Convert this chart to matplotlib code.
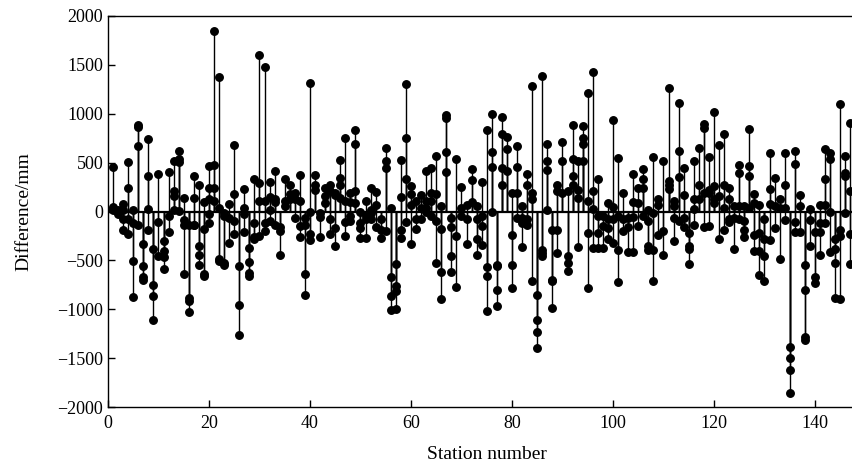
import matplotlib

matplotlib.use("Agg")
import matplotlib.pyplot as plt
import numpy as np
from matplotlib.ticker import MultipleLocator

plt.rcParams["font.family"] = ["Liberation Serif", "DejaVu Serif"]

# station number -> differences (mm), several epochs per station
diff_001_030 = [
    [458, 50, 30, 20], [20, -30, 0], [75, 20, -75, -185], [510, 245, -80, -230],
    [15, -120, -505, -875], [885, 860, 665, -140], [-335, -555, -675, -700],
    [740, 365, 30, -190], [-380, -755, -865, -1115], [385, -105, -460],
    [-300, -405, -470, -585], [400, -45, -210], [515, 210, 160, 20],
    [615, 535, 505, 10], [135, -85, -140, -635], [-140, -880, -915, -1030],
    [365, 135, -140, -140], [275, -350, -440, -545], [100, -175, -635, -655],
    [470, 245, 125, -25, -120], [1850, 480, 240, 110], [1380, 35, -490, -510],
    [-15, -50, -530, -545], [80, -65, -320], [680, 180, -100, -235],
    [-560, -955, -1260], [235, 40, -25, -210], [-375, -520, -630, -655],
    [330, -115, -260, -280], [1600, 295, 105, -255],
]
diff_031_060 = [
    [1480, 105, -115, -200], [305, 150, 20, -100], [415, 125, 100, -135],
    [-155, -200, -450], [330, 105, 60], [275, 175, 125], [190, 130, -70],
    [370, 105, -150, -260], [-65, -140, -635, -850], [1310, 0, -235, -290],
    [370, 275, 225], [-15, -55, -260], [245, 155, 90], [275, 210, -80, -235],
    [190, 170, -170, -355], [525, 345, 275, 140], [755, 105, -110, -255],
    [190, 95, -50, -100], [830, 690, 210, 90], [0, -115, -170, -270],
    [105, -50, -80, -270], [245, 20, -15, -80], [200, 70, -155], [-80, -190, -275],
    [645, 515, 440, -200], [40, -665, -860, -1005], [-535, -765, -815, -1000],
    [525, 145, -190, -275], [1300, 755, 330, -110], [265, 180, 65, -330],
]
diff_061_090 = [
    [105, -75, -180], [165, 40, -80], [415, 105, 40, 0], [450, 185, 105, -50],
    [570, 175, -100, -525], [55, -180, -620, -900], [985, 960, 610, 405],
    [-65, -155, -460, -620], [535, -255, -775], [250, 40, -50], [70, -75, -330],
    [430, 320, 95], [55, -80, -280, -440], [305, -50, -150, -340],
    [835, -570, -655, -1015], [1000, 610, 460, 0], [-545, -560, -805, -970],
    [970, 790, 450, 275], [765, 635, 415], [190, -245, -545, -785],
    [665, 460, 185, -65], [60, -65, -115, -365], [380, 270, -75, -135],
    [1285, 190, 125, -715], [-850, -1110, -1230, -1400], [1390, -390, -425, -460],
    [695, 515, 420, 15], [-185, -700, -710, -990], [275, 210, -185, -425],
    [710, 515, 190],
]
diff_091_120 = [
    [210, -460, -525, -610], [880, 535, 360, 275], [515, 225, 140, -360],
    [875, 755, 695, 515], [1215, 105, -220, -785], [1430, 210, 25, -375],
    [330, -50, -220, -375], [-50, -150, -375], [90, -80, -170, -280],
    [935, 50, -75, -320], [550, -50, -390, -725], [190, -80, -200],
    [-65, -155, -410], [380, 95, -55, -410], [245, 90, -150], [430, 330, 245, -50],
    [20, -100, -350, -390], [560, -15, -390, -715], [125, 70, -245],
    [515, -200, -450], [1260, 310, 275, 230], [105, 55, -65, -305],
    [1115, 620, 355, -100], [450, 165, -65, -155], [-220, -355, -385, -535],
    [515, 130, 25, -140], [645, 270, 125], [895, 850, 190, -155],
    [555, 220, 185, -150], [1020, 260, 125, 90],
]
diff_121_147 = [
    [680, 155, -280], [795, 275, 40, -190], [245, 125, -75, -105], [55, -65, -380],
    [475, 390, 55, -80], [55, -100, -185, -260], [840, 465, 360, 40],
    [180, 90, -245, -400], [70, -220, -400, -645], [-75, -280, -460, -715],
    [595, 235, 80, -290], [345, 55, -170], [130, 40, -490], [595, 270, 40, -90],
    [-1390, -1500, -1620, -1860], [620, 490, -110, -210], [165, 55, -210],
    [-545, -800, -1280, -1315], [25, -90, -350], [-210, -670, -730],
    [70, -115, -205, -450], [635, 330, 70, -120], [600, 540, 0, -410],
    [-285, -385, -525, -885], [1100, -185, -250, -895], [570, 395, 360, -15],
    [905, 210, -230, -540],
]

x_ticks = [0, 20, 40, 60, 80, 100, 120, 140]
y_ticks = [-2000, -1500, -1000, -500, 0, 500, 1000, 1500, 2000]

all_diffs = diff_001_030 + diff_031_060 + diff_061_090 + diff_091_120 + diff_121_147
stations, values = [], []
for number, readings in enumerate(all_diffs, start=1):
    for v in readings:
        stations.append(number)
        values.append(v)
stations = np.array(stations)
values = np.array(values)

fig = plt.figure(figsize=(8.53, 4.66), dpi=100)
# right edge runs past the canvas so the plot is cut off like the original
ax = fig.add_axes([108 / 853, 59 / 466, 757.5 / 853, 391 / 466])

ax.vlines(stations, 0, values, color="black", linewidth=1.0)
ax.plot(stations, values, "o", color="black", markersize=5.4, linestyle="none")
ax.axhline(0, color="black", linewidth=1.6)

ax.set_xlim(0, 150)
ax.set_ylim(-2000, 2000)
ax.set_xticks(x_ticks)
ax.set_yticks(y_ticks)
ax.yaxis.set_minor_locator(MultipleLocator(500))
ax.tick_params(direction="in", length=5, width=1, labelsize=13, top=False, right=False)
ax.tick_params(axis="x", pad=6)
ax.spines["right"].set_visible(False)
for side in ("left", "bottom", "top"):
    ax.spines[side].set_linewidth(1.0)

ax.set_xlabel("Station number", fontsize=14, labelpad=10)
ax.set_ylabel("Difference/mm", fontsize=14, labelpad=18)

fig.savefig("out.png", dpi=100)
